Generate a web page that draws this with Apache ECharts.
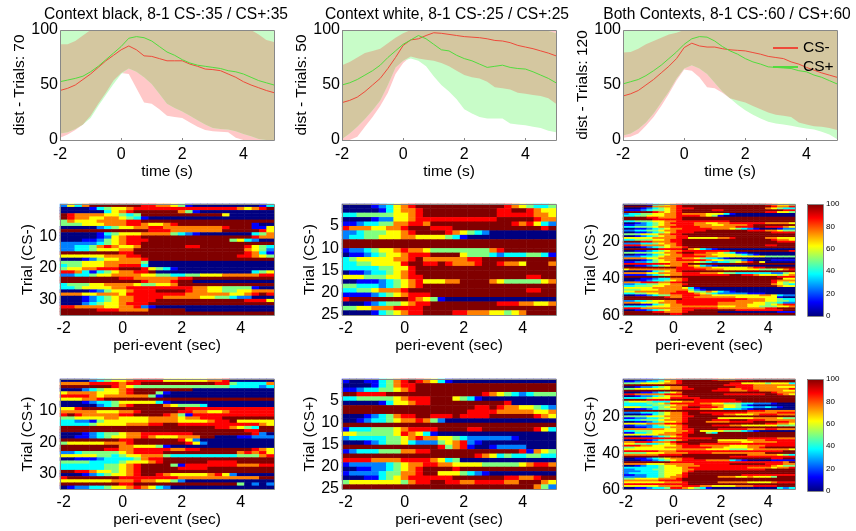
<!DOCTYPE html>
<html><head><meta charset="utf-8">
<style>html,body{margin:0;padding:0;background:#fff}#c{width:856px;height:531px}</style>
<script src="https://cdn.jsdelivr.net/npm/echarts@6/dist/echarts.min.js"></script>
</head><body><div id="c"></div>
<script>
const timePoints = [-2,-1.75,-1.5,-1.25,-1,-0.75,-0.5,-0.25, 0,0.25,0.5,0.75,1,1.25,1.5,1.75, 2,2.25,2.5,2.75,3,3.25,3.5,3.75, 4,4.25,4.5,4.75,5];

// dist curves: mean and band limits, context black
const blackMeanMinus = [45,47,50,55,60,66,72,77, 82,85.5,82,76.5,76,74,72,72, 72,69,67,64.5,64,63,60,57, 53,50,47.5,45,43];
const blackMeanPlus  = [53,54.5,56,58,62,67,73,79, 85,92.5,94,93,90,85,80,77, 73,70,68,67,66,65,63,62, 60,57,54,52,50];
const blackUpperMinus= [87,87,90,95,100,100,100,100, 100,100,100,100,100,100,100,100, 100,100,100,100,100,100,100,100, 100,100,96,91,89];
const blackUpperPlus = [100,100,100,100,100,100,100,100, 100,100,100,100,100,100,100,100, 100,100,100,100,100,100,100,100, 100,100,100,100,100];
const blackLowerMinus= [2,5,9,14,22,33,43,54, 61,60,47,34,33,28,22,21, 20,16,12,9,8,7.5,7,2, 0,0,0,0,0];
const blackLowerPlus = [6,7,10,14,20,31,41,51, 60,65,62,57,51,42,33,29, 26,22,18,14,11,10,9.5,8, 5.5,3.5,1,0,0];
// context white
const whiteMeanMinus = [34,36,39,44,50,56,65,75, 86,91,92,95,97.5,97,96,95, 94,93.5,93,92,90.5,90,88.5,86, 84.5,83,81,79,76.5];
const whiteMeanPlus  = [50,52,55,59,63,68,75,81, 87,91,95,92,87,82,81,77, 74,72,69,66,67,68,66,65, 64.5,62,59,56,52];
const whiteUpperMinus= [68,71,75,79,81,83,88,93, 97,100,100,100,100,100,100,100, 100,100,100,100,100,100,100,100, 100,100,100,100,100];
const whiteUpperPlus = [99,100,100,100,100,100,100,100, 100,100,100,100,100,100,100,100, 100,100,100,100,100,100,100,100, 100,100,100,99,97];
const whiteLowerMinus= [0,0,3,12,21,31,43,60, 70,76,74,73,72,70,67,63, 59,57,56,53,48,47,46,43, 42,41,40,38,33];
const whiteLowerPlus = [1,6,12,19,27,36,50,66, 72,74,72,67,58,50,44,37, 28,24,21,19.5,19.5,19.5,15,14, 13.5,12,11,8.5,7];
// both contexts
const bothMeanMinus  = [40,42,45,50,55,61,67,74, 84,88,85.5,84.5,84.5,83,82,81.5, 81,79.5,78,76,75,74,71,69, 66,63.5,61,59,57];
const bothMeanPlus   = [51,53,55,58.5,63,68,74,80, 87,92,94,93.5,90,85,81,78, 74,71,69,66.5,66,65.5,65,63, 62,59,57,54,51];
const bothUpperMinus = [79.5,80,83,87,90,93,96,97.5, 100,100,100,100,100,100,100,100, 100,100,100,100,100,100,100,100, 100,100,100,100,100];
const bothUpperPlus  = [100,100,100,100,100,100,100,100, 100,100,100,100,100,100,100,100, 100,100,100,100,100,100,100,100, 100,100,100,100,100];
const bothLowerMinus = [2,3,6,13,21,31,42,54, 64,63,57,48,47,43,38,36, 34,31,28,25,23,22,21,16, 14,12.5,12,11,9];
const bothLowerPlus  = [4,6,10,16,24,34,44,56, 65,68,65,60,52,44,38,32, 27,23,19.5,16.5,15,14,13,11.5, 10.5,9.5,7.5,5,1];

// Heatmap rows: one digit per time bin, digit x LEVEL_STEP = value; top row first
const LEVEL_STEP = 12.5;
const trialsBlackMinus = [
"25368888 88877665 41000000 00013","00001345 56777777 77777777 65678","00000035 67888888 64100000 00000","87666655 43488888 88888850 00000","87665566 54310000 00000000 00000",
"46555666 67788888 88888888 88888","44455566 67765567 88888888 88100","00000234 55667766 66666678 88115","88888888 88887776 66666688 88875","00000134 55566664 32100000 00346",
"00000125 67788888 88888888 88766","00011245 67778888 88888884 53200","22222345 67788888 88888888 88888","22334676 55688888 87788888 87543","22334555 66888888 88888888 86542",
"88888888 77888888 88888888 87631","55555566 67788888 88888888 77654","00012455 66678888 88888888 88888","44455566 66640000 00000000 00000","34455566 77730000 00000000 00000",
"45566777 88875431 00000000 00000","77631345 66778000 00000000 00345","22334556 66655443 34455566 66677","88888888 77666666 77888888 88888","88888888 88876667 88000000 00000",
"34445566 66544556 88888888 88888","33455556 67777777 77665544 44100","00001245 56777888 87665544 55666","66655666 57777777 76666665 56787","00012345 66777766 66655443 22000",
"00012345 66777888 88888888 87775","00023455 67778888 88888888 88888","77666655 66721000 00000000 00000","88888777 66668888 80000000 00000","88888888 88888888 88888888 88888"];
const trialsWhiteMinus = [
"00001235 67888888 88888876 54334","00000135 66788888 88888778 87655","33444445 56788888 88888777 77665","00001225 56777777 77777888 88766","11233446 67768888 88888887 67532",
"76665566 78887778 88888888 88878","22344455 67888876 54320000 00000","23344555 66555543 10000000 00000","88888888 88888888 88888888 88888","88888888 88888888 88888888 88888",
"12234556 76654444 44446788 88888","01123455 67778888 54443233 34431","34555556 67866666 67788888 88888","33445555 78877876 66788766 58886","33333445 57888888 88888888 88888",
"01123345 67888888 88888888 88888","55544455 67788888 88888888 87788","00111234 56755566 88886544 44456","44333234 56788888 88888888 88888","33445666 78888888 88888888 87788",
"11112345 67778888 88888888 88888","78888888 87654100 00000000 00000","00012344 56778888 88888777 66556","44556667 77788888 88888888 88888","00001345 67788887 76665545 68888"];
const trialsBothMinus = [
"00001345 67888888 88888888 76554","88888666 67888888 88888888 87667","00012345 67778888 88888888 65433","11123445 67888887 78888888 88877","88888765 67888888 88888888 77554",
"23344556 67666655 53100000 00000","33445556 67777654 10000000 00000","88887766 67888888 88888888 88888","88888777 77888888 88888888 88888","33444556 67777777 77888888 88888",
"00123456 77776655 66777777 66665","11223456 67776665 56666788 88888","33444566 77777666 66677788 77765","00112345 66777776 66543210 00122","22334456 67777788 88888777 66544",
"00112345 67778888 88888888 87777","44455566 77888888 88888888 88888","00123456 67788888 88888888 88888","55555666 67755555 66788888 66555","33444556 77888888 88888888 87665",
"88877666 77888888 88888888 88777","22233456 67888888 88888888 88888","77766665 67888888 88888888 77888","00012345 66788888 88888888 88888","88888877 77865321 00000000 00000",
"00112345 66777777 77888888 88887","44444556 67887766 54311000 00000","00112345 66776665 55543210 00000","22233456 66777766 55555555 44444","66665566 67665433 21000000 00000",
"00012456 67777765 54442100 01111","11223455 66665432 33456785 00000","77777777 66788888 88888888 88888","00112345 66765321 00000000 00000","88888888 87776665 55555677 88888",
"56666666 67777766 65555554 44567","00001345 67888888 88888888 88888","66665566 66777666 54433333 32245","11112345 66777777 77887765 55456","88888888 88888888 88888888 88777",
"00011233 66788888 88888888 88855","00112334 56788888 88888888 87666","66677766 77888888 88888888 87545","22334455 66788888 88888888 86543","33444556 66888888 88888888 88655",
"55555666 66531000 00000000 00000","44455566 66642100 00000000 00000","55666666 67754465 32100000 00000","33445566 77776543 22222111 00000","00112344 66777665 55555556 65322",
"88888887 66776666 66655555 55100","88888888 88777777 77777666 55433","22334556 67777777 77766666 55443","66655566 67777777 66666655 44322","00011345 66777777 66666555 45677",
"33334555 66666666 55566554 44556","77766666 66777777 66666666 77888","00112345 66778888 88877777 77788","88888776 66788888 00000000 00111","88888888 77888888 88888888 88888"];
const trialsBlackPlus = [
"00002345 56777755 55556670 00000","66667777 67788888 88888774 33336","88888887 65444444 44444443 33323","00023455 67888888 88000000 00000","56666555 67888410 00000000 00000",
"77776566 66664100 00000000 00000","55566788 88888888 88888888 88888","00012334 55555310 00000000 00000","00000234 67888865 44430000 00000","55788888 88888888 87777777 77777",
"66666555 66788888 77665567 77777","78766666 77888876 41777777 77777","44555566 55556666 56677788 88888","33221455 55556666 55556778 55555","33334555 56667788 77777777 77765",
"88888888 88888888 88888776 54388","88888888 88888888 88888888 87788","00012344 56677777 77888888 88720","00112345 56676555 66688000 11222","88888888 77888888 75200000 00000",
"45555566 67888888 87520000 00000","88888888 66555410 00000000 00000","88888877 66777776 67788888 88765","22344444 56777788 88888888 67675","55555443 45566643 33333333 44467",
"00111233 33467788 88888888 88888","44443333 45556788 88887777 88888","33333344 56788884 17777777 66677","33333344 56788888 77778888 88888","88776554 56788888 88888888 88888",
"00012345 56788765 55556752 00000","78888888 77777777 66666666 66688","55555556 66766554 20000000 00000","88888888 77888888 88888888 40202","01223345 56765320 00000000 00000"];
const trialsWhitePlus = [
"10011346 78765310 00000000 00000","00001346 77888888 88888888 88888","11233445 67888888 88888888 88888","88777788 88888888 88876543 23444","33444445 67778885 43100000 00000",
"00000135 56778888 88888870 00000","88888888 88888888 88778766 55432","88888888 88888888 87777666 66556","00012346 77887778 77778888 88765","00123345 66764200 00000000 00000",
"88888888 88888888 88888888 88888","13334445 67777888 87788888 88753","55444445 76531000 00000000 00000","23333344 56766554 32222221 00000","00012344 53222456 72100000 00000",
"88888888 88888746 71001222 20000","12333444 66778888 88888888 71654","88888888 88888888 88765343 34433","77776666 77776534 00000000 00000","12222234 56677665 55544444 56776",
"00112234 56788887 88888888 88888","12222344 66788555 43210000 00000","00011345 67777778 88888877 66788","45555555 46778877 66777766 88865","88888888 88888888 88888888 88642"];
const trialsBothPlus = [
"00011236 67888887 66677788 88888","11223345 67888888 88888888 88888","44455556 67888888 88775555 45553","88888888 88888888 87777766 66666","00122345 66788888 88877766 66555",
"44555555 66778888 77667766 66667","88888888 88888887 77666776 66655","00011234 56888888 88888888 87666","77666667 77888888 87777777 88765","00122345 66788888 88888888 88888",
"33334555 77777888 88888888 88888","88887777 88887777 77788888 88888","45554333 55667777 77778888 88888","33334456 77777665 54443322 21000","33333444 56677776 65542100 00000",
"55544345 66788777 65543322 32100","00112344 56777665 53332100 00000","88888888 88888888 88888777 66666","22233345 66788777 77777666 66777","00011345 66788887 76655567 77666",
"44445556 66778888 88888888 88888","11223345 66788888 55555566 66544","33344456 66788887 77888777 66666","00112345 56788866 66777788 88776","55556667 77888888 88888888 77665",
"11222345 56788887 77665555 55444","00112334 66788888 88888888 88888","66666665 56778888 77777666 77666","33444555 56678555 54443210 00000","11334556 66778843 88888888 88888",
"55555566 67788888 88888888 88888","00011234 56788888 88888888 88888","77777777 77777778 88888777 77666","00001234 46788888 55555666 77777","66777666 78888888 66665566 66777",
"55443345 67788777 77777777 77777","77766555 56777666 66555666 77777","44555556 66777776 65555667 88888","55555555 56666655 55444566 66665","77777766 67777777 77777777 77788",
"44445556 66677776 66666666 88888","66666677 77888888 88888666 66543","88888888 88888888 88777777 77777","00112345 66778888 88888888 87788","00011234 56777766 66321000 01111",
"88888888 77777777 77777777 77768","66665556 66667777 77888888 77766","00123345 56666777 77777777 76544","33333345 55677777 77777666 65667","22333445 55667777 77777777 88888",
"22233345 55678888 88888888 88888","23333345 55788888 88888888 88888","11223345 56788888 88887777 77777","22223345 66788888 66655655 54888","44555566 67888888 88888888 88888",
"66666677 77888888 88888888 88888","55555556 66788888 66666555 56777","77777777 77788888 88888888 88888","55555566 66777665 55566677 77888","00112334 77654310 00000000 00323"];

const colorbarTicks = [0,20,40,60,80,100];
const jet = ['#000080','#0000ff','#0080ff','#00ffff','#80ff80','#ffff00','#ff8000','#ff0000','#800000'];
const FONT = '"Liberation Sans", Arial, sans-serif';
const FRAME = '#888888';
const RED = '#ee4a3a', GREEN = '#52dc3e', PINK = '#ffc8c8', MINT = '#c8fcc8', TAN = '#d4c7a0';

const linePanels = [
  {title:'Context black, 8-1 CS-:35 / CS+:35', ylabel:'dist - Trials: 70', left:60, width:214, cx:161,
   m:blackMeanMinus,p:blackMeanPlus,um:blackUpperMinus,up:blackUpperPlus,lm:blackLowerMinus,lp:blackLowerPlus},
  {title:'Context white, 8-1 CS-:25 / CS+:25', ylabel:'dist - Trials: 50', left:342, width:214, cx:442,
   m:whiteMeanMinus,p:whiteMeanPlus,um:whiteUpperMinus,up:whiteUpperPlus,lm:whiteLowerMinus,lp:whiteLowerPlus},
  {title:'Both Contexts, 8-1 CS-:60 / CS+:60', ylabel:'dist - Trials: 120', left:623, width:214, cx:722,
   m:bothMeanMinus,p:bothMeanPlus,um:bothUpperMinus,up:bothUpperPlus,lm:bothLowerMinus,lp:bothLowerPlus}];
const heatPanels = [
  {rows:trialsBlackMinus, ylabel:'Trial (CS-)', left:60, width:214, top:204, height:111, yticks:[10,20,30], map:0},
  {rows:trialsWhiteMinus, ylabel:'Trial (CS-)', left:342, width:214, top:204, height:111, yticks:[5,10,15,20,25], map:0},
  {rows:trialsBothMinus, ylabel:'Trial (CS-)', left:623, width:172, top:204, height:111, yticks:[20,40,60], map:0},
  {rows:trialsBlackPlus, ylabel:'Trial (CS+)', left:60, width:214, top:379, height:110, yticks:[10,20,30], map:1},
  {rows:trialsWhitePlus, ylabel:'Trial (CS+)', left:342, width:214, top:379, height:110, yticks:[5,10,15,20,25], map:1},
  {rows:trialsBothPlus, ylabel:'Trial (CS+)', left:623, width:172, top:379, height:110, yticks:[20,40,60], map:1}];
const colorbars = [{top:204,height:112},{top:379,height:112}];

const grid=[], xAxis=[], yAxis=[], series=[], title=[], graphic=[];
const mapSeries=[[],[]];
const labelStyle = {color:'#000', fontFamily:FONT, fontSize:16};
const nameStyle = {color:'#000', fontFamily:FONT, fontSize:15.5};
const tickStyle = {show:true, inside:true, length:2, lineStyle:{color:FRAME,width:1}};
const noLine = {show:false, onZero:false};
function frame(g){
  graphic.push({type:'rect', z:100, silent:true, shape:{x:g.left+.5,y:g.top+.5,width:g.width,height:g.height},
    style:{fill:'none',stroke:FRAME,lineWidth:1}});
}
function band(idx, lower, upper, color){
  series.push({type:'custom',xAxisIndex:idx,yAxisIndex:idx,silent:true,z:1,data:[[timePoints[0],lower[0]]],
    renderItem:(params,api)=>{
      const pts=[];
      timePoints.forEach((t,i)=>pts.push(api.coord([t,lower[i]])));
      for(let i=timePoints.length-1;i>=0;i--) pts.push(api.coord([timePoints[i],upper[i]]));
      return {type:'polygon',shape:{points:pts},style:{fill:color}};
    }});
}
linePanels.forEach((p,idx)=>{
  const g={left:p.left,top:30,width:p.width,height:110};
  grid.push(g); frame(g);
  title.push({text:p.title,left:p.cx,top:2,textAlign:'center',textStyle:{color:'#000',fontFamily:FONT,fontSize:15.6,fontWeight:'normal'}});
  xAxis.push({gridIndex:idx,type:'value',min:-2,max:5,interval:2,splitLine:{show:false},axisLine:noLine,
    axisTick:tickStyle,axisLabel:{...labelStyle,margin:7,showMaxLabel:false},
    name:'time (s)',nameLocation:'middle',nameGap:21,nameTextStyle:{...nameStyle,verticalAlign:'top'}});
  yAxis.push({gridIndex:idx,type:'value',min:0,max:100,interval:50,splitLine:{show:false},axisLine:noLine,
    axisTick:tickStyle,axisLabel:{...labelStyle,margin:2},
    name:p.ylabel,nameLocation:'middle',nameGap:29,nameTextStyle:nameStyle});
  band(idx,p.lm,p.um,PINK);
  band(idx,p.lp,p.up,MINT);
  band(idx,timePoints.map((t,i)=>Math.max(p.lm[i],p.lp[i])),timePoints.map((t,i)=>Math.min(p.um[i],p.up[i])),TAN);
  series.push({name:'CS-',type:'line',xAxisIndex:idx,yAxisIndex:idx,symbol:'none',silent:true,z:5,
    itemStyle:{color:RED},lineStyle:{color:RED,width:1},data:timePoints.map((t,i)=>[t,p.m[i]])});
  series.push({name:'CS+',type:'line',xAxisIndex:idx,yAxisIndex:idx,symbol:'none',silent:true,z:5,
    itemStyle:{color:GREEN},lineStyle:{color:GREEN,width:1},data:timePoints.map((t,i)=>[t,p.p[i]])});
});
const xTickLabels=['-2','0','2','4'];
heatPanels.forEach((p,k)=>{
  const idx=grid.length;
  const g={left:p.left,top:p.top,width:p.width,height:p.height};
  grid.push(g); frame(g);
  const trials=p.rows.map((r,i)=>String(i+1));
  const yShow=(i,v)=>p.yticks.includes(+v);
  const xShow=(i,v)=>xTickLabels.includes(String(v));
  xAxis.push({gridIndex:idx,type:'category',data:timePoints.map(String),axisLine:noLine,splitLine:{show:false},
    axisTick:{...tickStyle,alignWithLabel:true,interval:xShow},axisLabel:{...labelStyle,margin:6,interval:xShow},
    name:'peri-event (sec)',nameLocation:'middle',nameGap:22,nameTextStyle:{...nameStyle,verticalAlign:'top'}});
  yAxis.push({gridIndex:idx,type:'category',inverse:true,data:trials,axisLine:noLine,splitLine:{show:false},
    axisTick:{...tickStyle,alignWithLabel:true,interval:yShow},
    axisLabel:{...labelStyle,margin:3,interval:yShow,formatter:v=>`{a|${v}}`,rich:{a:{...labelStyle,padding:[4,0,0,0]}}},
    name:p.ylabel,nameLocation:'middle',nameGap:23,nameTextStyle:nameStyle});
  const data=[];
  p.rows.forEach((r,ri)=>{[...r.replace(/ /g,'')].forEach((d,ci)=>data.push([ci,ri,+d*LEVEL_STEP]));});
  mapSeries[p.map].push(series.length);
  series.push({type:'heatmap',xAxisIndex:idx,yAxisIndex:idx,silent:true,data,progressive:0,itemStyle:{borderWidth:0}});
});
const rampStops=jet.map((color,i)=>({offset:i/(jet.length-1),color}));
colorbars.forEach(c=>{
  const idx=grid.length;
  const g={left:807,top:c.top,width:16,height:c.height};
  grid.push(g); frame(g);
  graphic.push({type:'rect',z:90,silent:true,shape:{x:g.left,y:g.top,width:g.width,height:g.height},
    style:{fill:new echarts.graphic.LinearGradient(0,1,0,0,rampStops)}});
  xAxis.push({gridIndex:idx,type:'value',min:0,max:1,show:false});
  yAxis.push({gridIndex:idx,type:'value',position:'right',min:colorbarTicks[0],max:colorbarTicks[colorbarTicks.length-1],interval:20,
    splitLine:{show:false},axisLine:noLine,axisTick:{show:false},
    axisLabel:{color:'#000',fontFamily:FONT,fontSize:8,margin:3}});
});
const visualMap=colorbars.map((c,i)=>({type:'continuous',show:false,min:0,max:100,seriesIndex:mapSeries[i],inRange:{color:jet}}));

const chart=echarts.init(document.getElementById('c'),null,{renderer:'canvas'});
chart.setOption({animation:false,backgroundColor:'#fff',title,grid,xAxis,yAxis,series,visualMap,graphic,tooltip:{show:false},
  legend:{data:['CS-','CS+'],orient:'vertical',left:772,top:40,padding:0,itemWidth:25,itemHeight:14,itemGap:3,selectedMode:false,
    itemStyle:{opacity:0},textStyle:{color:'#000',fontFamily:FONT,fontSize:15.5},z:20}});
[trialsBlackMinus,trialsWhiteMinus,trialsBothMinus,trialsBlackPlus,trialsWhitePlus,trialsBothPlus].forEach((rows,k)=>rows.forEach((r,i)=>{
  if(r.replace(/ /g,'').length!==timePoints.length) console.error('bad row',k,i);}));
</script></body></html>
